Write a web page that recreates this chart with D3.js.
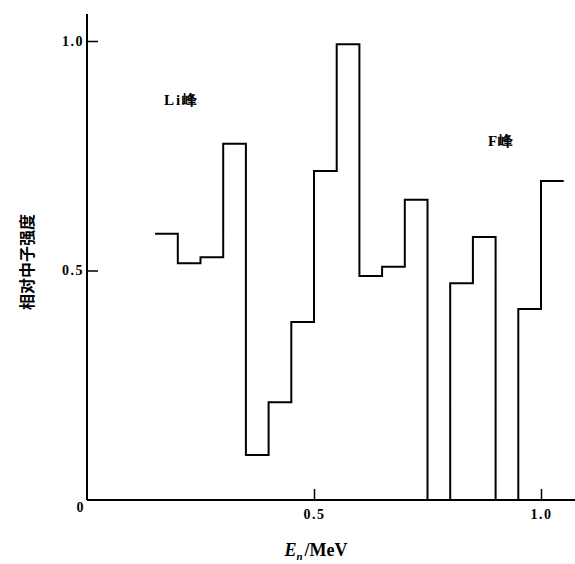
<!DOCTYPE html>
<html>
<head>
  <meta charset="utf-8">
  <style>
    body { margin: 0; background: #fff; }
  </style>
</head>
<body>
  <svg width="575" height="564"></svg>
  <script src="https://d3js.org/d3.v7.min.js"></script>
  <script>
    // bin edges (MeV) and relative neutron intensity per bin
    var binEdges = [0.15, 0.20, 0.25, 0.30, 0.35, 0.40, 0.45, 0.50, 0.55, 0.60,
                    0.65, 0.70, 0.75, 0.80, 0.85, 0.90, 0.95, 1.00, 1.05];
    var intensity = [0.58, 0.516, 0.529, 0.776, 0.098, 0.213, 0.388, 0.717, 0.993,
                     0.488, 0.508, 0.654, 0, 0.472, 0.573, 0, 0.416, 0.695];
    var xTicks = [0.5, 1.0];
    var yTicks = [0.5, 1.0];

    var svg = d3.select("svg"),
      width = +svg.attr("width");

    var x = d3.scaleLinear().domain([0, 1]).range([87, 541]);
    var y = d3.scaleLinear().domain([0, 1]).range([500, 41]);

    var serif = "'Liberation Serif', 'DejaVu Serif', serif";

    // axes lines
    svg.append("line")
      .attr("x1", x(0)).attr("x2", x(0))
      .attr("y1", 14).attr("y2", y(0))
      .attr("stroke", "#000").attr("stroke-width", 2);
    svg.append("line")
      .attr("x1", x(0)).attr("x2", width)
      .attr("y1", y(0)).attr("y2", y(0))
      .attr("stroke", "#000").attr("stroke-width", 2);

    var yAxis = svg.append("g")
      .attr("transform", "translate(" + x(0) + ",0)")
      .call(d3.axisLeft(y).tickValues(yTicks).tickSize(-11).tickSizeOuter(0)
        .tickPadding(3).tickFormat(d3.format(".1f")));
    var xAxis = svg.append("g")
      .attr("transform", "translate(0," + y(0) + ")")
      .call(d3.axisBottom(x).tickValues(xTicks).tickSize(-11).tickSizeOuter(0)
        .tickPadding(9).tickFormat(d3.format(".1f")));

    [yAxis, xAxis].forEach(function (a) {
      a.select(".domain").remove();
      a.selectAll(".tick line").attr("stroke", "#000").attr("stroke-width", 1.5);
      a.selectAll(".tick text")
        .attr("fill", "#000")
        .style("font-family", serif)
        .style("font-size", "14px")
        .style("font-weight", "bold")
        .style("letter-spacing", "1.5px");
    });

    svg.append("text")
      .attr("x", x(0) - 7).attr("y", y(0) + 12)
      .attr("text-anchor", "middle")
      .style("font-family", serif).style("font-size", "14px").style("font-weight", "bold")
      .text("0");

    // step line
    var pts = [];
    intensity.forEach(function (v, i) {
      pts.push([binEdges[i], v]);
      pts.push([binEdges[i + 1], v]);
    });
    svg.append("path")
      .datum(pts)
      .attr("fill", "none")
      .attr("stroke", "#000")
      .attr("stroke-width", 2)
      .attr("d", d3.line()
        .x(function (d) { return x(d[0]); })
        .y(function (d) { return y(d[1]); }));

    // annotations
    svg.append("text")
      .attr("x", 164).attr("y", 105)
      .style("font-family", serif).style("font-size", "15px").style("font-weight", "bold")
      .style("letter-spacing", "2px")
      .text("Li峰");
    svg.append("text")
      .attr("x", 488).attr("y", 146)
      .style("font-family", serif).style("font-size", "15px").style("font-weight", "bold")
      .style("letter-spacing", "1px")
      .text("F峰");

    // axis titles
    svg.append("text")
      .attr("transform", "translate(33,262)rotate(-90)")
      .attr("text-anchor", "middle")
      .style("font-family", "'Noto Sans CJK SC', sans-serif")
      .style("font-size", "16px").style("font-weight", "bold")
      .text("相对中子强度");

    var xt = svg.append("text")
      .attr("x", 316).attr("y", 556)
      .attr("text-anchor", "middle")
      .style("font-family", serif).style("font-size", "18px").style("font-weight", "bold");
    xt.append("tspan").style("font-style", "italic").text("E");
    xt.append("tspan").attr("dy", 4).style("font-size", "11px").style("font-style", "italic").text("n");
    xt.append("tspan").attr("dy", -4).attr("dx", 2).text("/MeV");
  </script>
</body>
</html>
